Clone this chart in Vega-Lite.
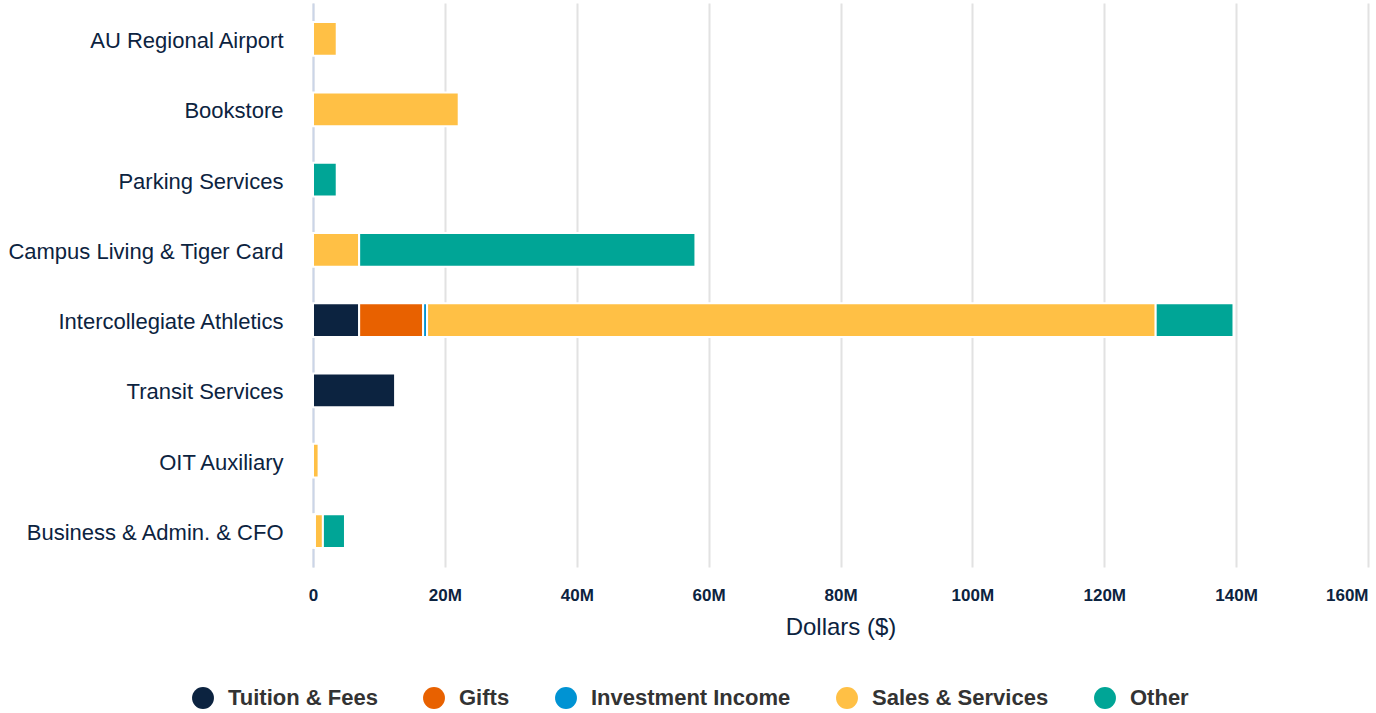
{
  "$schema": "https://vega.github.io/schema/vega-lite/v6.json",
  "autosize": {"type": "none"},
  "padding": {"left": 313, "top": 3, "right": 8, "bottom": 146},
  "width": 1055,
  "height": 564,
  "background": "white",
  "config": {
    "font": "Liberation Sans",
    "view": {"stroke": null}
  },
  "data": {
    "values": [
      {"unit": "AU Regional Airport", "source": "Sales & Services", "amount": 3600000},
      {"unit": "Bookstore", "source": "Sales & Services", "amount": 22100000},
      {"unit": "Parking Services", "source": "Other", "amount": 3600000},
      {"unit": "Campus Living & Tiger Card", "source": "Sales & Services", "amount": 7000000},
      {"unit": "Campus Living & Tiger Card", "source": "Other", "amount": 51000000},
      {"unit": "Intercollegiate Athletics", "source": "Tuition & Fees", "amount": 7000000},
      {"unit": "Intercollegiate Athletics", "source": "Gifts", "amount": 9700000},
      {"unit": "Intercollegiate Athletics", "source": "Investment Income", "amount": 600000},
      {"unit": "Intercollegiate Athletics", "source": "Sales & Services", "amount": 110500000},
      {"unit": "Intercollegiate Athletics", "source": "Other", "amount": 11800000},
      {"unit": "Transit Services", "source": "Tuition & Fees", "amount": 12450000},
      {"unit": "OIT Auxiliary", "source": "Sales & Services", "amount": 850000},
      {"unit": "Business & Admin. & CFO", "source": "Tuition & Fees", "amount": 300000},
      {"unit": "Business & Admin. & CFO", "source": "Sales & Services", "amount": 1200000},
      {"unit": "Business & Admin. & CFO", "source": "Other", "amount": 3350000}
    ]
  },
  "transform": [
    {"calculate": "indexof(['Tuition & Fees', 'Gifts', 'Investment Income', 'Sales & Services', 'Other'], datum.source)", "as": "stackOrder"}
  ],
  "mark": {"type": "bar", "stroke": "white", "strokeWidth": 2},
  "encoding": {
    "y": {
      "field": "unit",
      "type": "nominal",
      "sort": ["AU Regional Airport", "Bookstore", "Parking Services", "Campus Living & Tiger Card", "Intercollegiate Athletics", "Transit Services", "OIT Auxiliary", "Business & Admin. & CFO"],
      "scale": {"paddingInner": 0.52, "paddingOuter": 0.272},
      "axis": {
        "title": null,
        "ticks": false,
        "labelPadding": 30,
        "labelFontSize": 22,
        "labelColor": "#0c2340",
        "labelLimit": 400,
        "labelOffset": 2,
        "domain": true,
        "domainColor": "#cbd5e8",
        "domainWidth": 2
      }
    },
    "x": {
      "field": "amount",
      "type": "quantitative",
      "stack": "zero",
      "scale": {"domain": [0, 160000000], "nice": false},
      "axis": {
        "title": "Dollars ($)",
        "titleFontSize": 24,
        "titleFontWeight": "normal",
        "titleColor": "#0c2340",
        "titlePadding": 12,
        "values": [0, 20000000, 40000000, 60000000, 80000000, 100000000, 120000000, 140000000, 160000000],
        "labelExpr": "datum.value == 0 ? '0' : format(datum.value / 1000000, 'd') + 'M'",
        "labelFontSize": 17,
        "labelFontWeight": "bold",
        "labelColor": "#0c2340",
        "labelPadding": 20,
        "labelAlign": {"expr": "datum.value >= 160000000 ? 'right' : 'center'"},
        "ticks": false,
        "domain": false,
        "grid": true,
        "gridColor": "#e2e2e2",
        "gridWidth": 2
      }
    },
    "order": {"field": "stackOrder", "type": "quantitative", "sort": "ascending"},
    "color": {
      "field": "source",
      "type": "nominal",
      "sort": ["Tuition & Fees", "Gifts", "Investment Income", "Sales & Services", "Other"],
      "scale": {
        "domain": ["Tuition & Fees", "Gifts", "Investment Income", "Sales & Services", "Other"],
        "range": ["#0c2340", "#e86100", "#0093d3", "#ffc045", "#00a596"]
      },
      "legend": {
        "title": null,
        "orient": "none",
        "direction": "horizontal",
        "legendX": -121,
        "legendY": 684,
        "symbolType": "circle",
        "symbolSize": 480,
        "symbolStrokeWidth": 0,
        "labelFontSize": 22,
        "labelFontWeight": "bold",
        "labelColor": "#333333",
        "labelOffset": 14,
        "columnPadding": 45,
        "labelLimit": 400
      }
    }
  }
}
